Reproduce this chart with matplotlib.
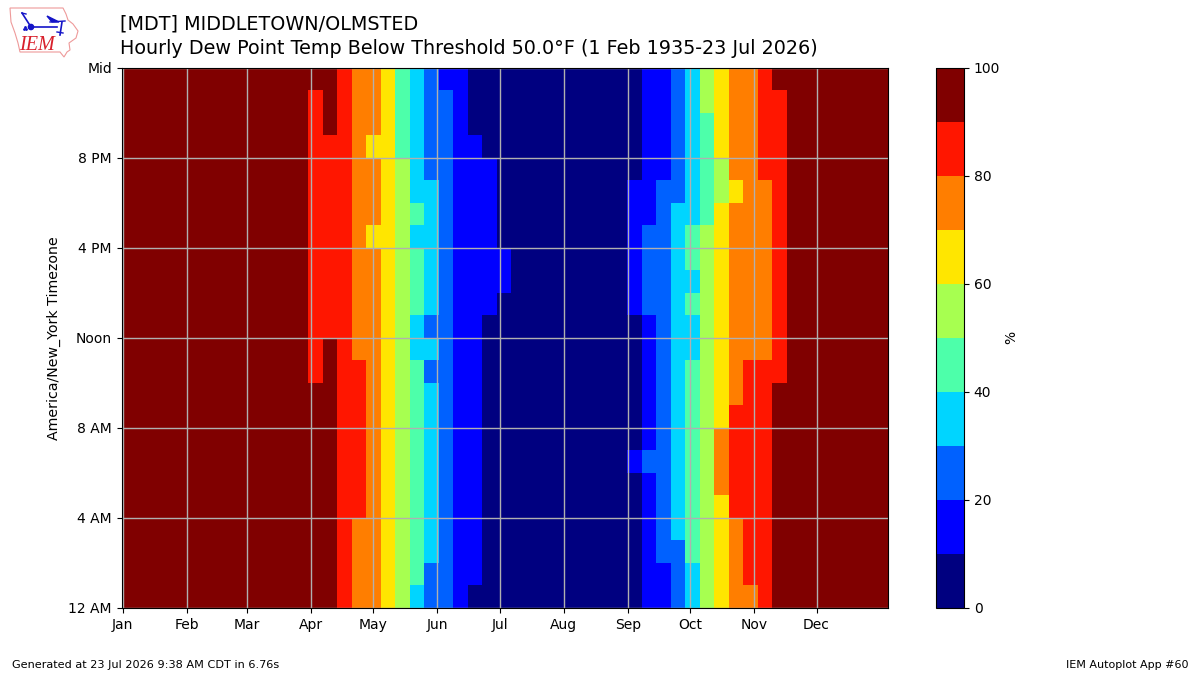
#Hourly dew point frequency heatmap for one station
#Weeks along the bottom, hour of day up the side, colour is % of obs below threshold

import numpy as np
from matplotlib import pyplot as plt
from matplotlib.colors import BoundaryNorm
from matplotlib.patches import Polygon, Circle

#tick positions are day of year in a leap year
month_days = [1, 32, 61, 92, 122, 153, 183, 214, 245, 275, 306, 336]
month_labels = ['Jan', 'Feb', 'Mar', 'Apr', 'May', 'Jun', 'Jul', 'Aug', 'Sep', 'Oct', 'Nov', 'Dec']
hour_ticks = [0, 4, 8, 12, 16, 20, 24]
hour_labels = ['12 AM', '4 AM', '8 AM', 'Noon', '4 PM', '8 PM', 'Mid']
levels = [0, 10, 20, 30, 40, 50, 60, 70, 80, 90, 100]
cbar_ticks = [0, 20, 40, 60, 80, 100]

#percent values by week, weeks 0-12 and 47-52 stay at the top band, weeks 27-34 at the bottom
winter_pct = 95
summer_pct = 5

#spring weeks 13-26, one row per hour starting at midnight
spring_pct = [
    [95, 95, 85, 75, 75, 65, 55, 35, 25, 25, 15, 5, 5, 5],
    [95, 95, 85, 75, 75, 65, 55, 45, 25, 25, 15, 15, 5, 5],
    [95, 95, 85, 75, 75, 65, 55, 45, 35, 25, 15, 15, 5, 5],
    [95, 95, 85, 75, 75, 65, 55, 45, 35, 25, 15, 15, 5, 5],
    [95, 95, 85, 85, 75, 65, 55, 45, 35, 25, 15, 15, 5, 5],
    [95, 95, 85, 85, 75, 65, 55, 45, 35, 25, 15, 15, 5, 5],
    [95, 95, 85, 85, 75, 65, 55, 45, 35, 25, 15, 15, 5, 5],
    [95, 95, 85, 85, 75, 65, 55, 45, 35, 25, 15, 15, 5, 5],
    [95, 95, 85, 85, 75, 65, 55, 45, 35, 25, 15, 15, 5, 5],
    [95, 95, 85, 85, 75, 65, 55, 45, 35, 25, 15, 15, 5, 5],
    [85, 95, 85, 85, 75, 65, 55, 45, 25, 25, 15, 15, 5, 5],
    [85, 95, 85, 75, 75, 65, 55, 35, 35, 25, 15, 15, 5, 5],
    [85, 85, 85, 75, 75, 65, 55, 35, 25, 25, 15, 15, 5, 5],
    [85, 85, 85, 75, 75, 65, 55, 45, 35, 25, 15, 15, 15, 5],
    [85, 85, 85, 75, 75, 65, 55, 45, 35, 25, 15, 15, 15, 15],
    [85, 85, 85, 75, 75, 65, 55, 45, 35, 25, 15, 15, 15, 15],
    [85, 85, 85, 75, 65, 65, 55, 35, 35, 25, 15, 15, 15, 5],
    [85, 85, 85, 75, 75, 65, 55, 45, 35, 25, 15, 15, 15, 5],
    [85, 85, 85, 75, 75, 65, 55, 35, 35, 25, 15, 15, 15, 5],
    [85, 85, 85, 75, 75, 65, 55, 35, 25, 25, 15, 15, 15, 5],
    [85, 85, 85, 75, 65, 65, 45, 35, 25, 25, 15, 15, 5, 5],
    [85, 95, 85, 75, 75, 65, 45, 35, 25, 25, 15, 5, 5, 5],
    [85, 95, 85, 75, 75, 65, 45, 35, 25, 25, 15, 5, 5, 5],
    [95, 95, 85, 75, 75, 65, 45, 35, 25, 15, 15, 5, 5, 5],
]

#autumn weeks 35-46, same row order
autumn_pct = [
    [5, 15, 15, 25, 35, 55, 65, 75, 75, 85, 95, 95],
    [5, 15, 15, 25, 35, 55, 65, 75, 85, 85, 95, 95],
    [5, 15, 25, 25, 45, 55, 65, 75, 85, 85, 95, 95],
    [5, 15, 25, 35, 45, 55, 65, 75, 85, 85, 95, 95],
    [5, 15, 25, 35, 45, 55, 65, 85, 85, 85, 95, 95],
    [5, 15, 25, 35, 45, 55, 75, 85, 85, 85, 95, 95],
    [15, 25, 25, 35, 45, 55, 75, 85, 85, 85, 95, 95],
    [5, 15, 25, 35, 45, 55, 75, 85, 85, 85, 95, 95],
    [5, 15, 25, 35, 45, 55, 65, 85, 85, 85, 95, 95],
    [5, 15, 25, 35, 45, 55, 65, 75, 85, 85, 95, 95],
    [5, 15, 25, 35, 45, 55, 65, 75, 85, 85, 85, 95],
    [5, 15, 25, 35, 35, 55, 65, 75, 75, 75, 85, 95],
    [5, 15, 25, 35, 35, 55, 65, 75, 75, 75, 85, 95],
    [15, 25, 25, 35, 45, 55, 65, 75, 75, 75, 85, 95],
    [15, 25, 25, 35, 35, 55, 65, 75, 75, 75, 85, 95],
    [15, 25, 25, 35, 45, 55, 65, 75, 75, 75, 85, 95],
    [15, 25, 25, 35, 45, 55, 65, 75, 75, 75, 85, 95],
    [15, 15, 25, 35, 35, 45, 65, 75, 75, 75, 85, 95],
    [15, 15, 25, 25, 35, 45, 55, 65, 75, 75, 85, 95],
    [5, 15, 15, 25, 35, 45, 55, 75, 75, 85, 85, 95],
    [5, 15, 15, 25, 35, 45, 65, 75, 75, 85, 85, 95],
    [5, 15, 15, 25, 35, 45, 65, 75, 75, 85, 85, 95],
    [5, 15, 15, 25, 35, 55, 65, 75, 75, 85, 85, 95],
    [5, 15, 15, 25, 35, 55, 65, 75, 75, 85, 95, 95],
]

#1. put the seasons together into one hour by week grid
rows = []
for hour in range(24):
    rows.append([winter_pct] * 13 + spring_pct[hour] + [summer_pct] * 8 + autumn_pct[hour] + [winter_pct] * 6)
grid = np.array(rows)

week_edges = np.arange(54) * 7 - 0.5
hour_edges = np.arange(25)

fig = plt.figure(figsize=(12, 6.75), dpi=100)
ax = fig.add_axes([121.6 / 1200, 67.2 / 675, 766.4 / 1200, 540.2 / 675])
cax = fig.add_axes([936 / 1200, 67.2 / 675, 28 / 1200, 540.2 / 675])

#2. the heatmap, jet cut into ten bands
norm = BoundaryNorm(levels, 256)
mesh = ax.pcolormesh(week_edges, hour_edges, grid, cmap='jet', norm=norm)
ax.set_xlim(0.5, 370.5)
ax.set_ylim(0, 24)
ax.set_xticks(month_days)
ax.set_xticklabels(month_labels)
ax.set_yticks(hour_ticks)
ax.set_yticklabels(hour_labels)
ax.set_ylabel('America/New_York Timezone', labelpad=5, fontsize=10.2)
ax.grid(True, color='#b0b0b0', linewidth=1)
ax.set_axisbelow(False)
#keep the frame above the grid lines that sit on the edges
for spine in ax.spines.values():
    spine.set_zorder(5)

cbar = fig.colorbar(mesh, cax=cax, ticks=cbar_ticks)
cbar.ax.minorticks_off()
cbar.set_label('%', labelpad=3)

#3. title lines and footer
fig.text(120 / 1200, 1 - 24 / 675, '[MDT] MIDDLETOWN/OLMSTED', fontsize=13.74, va='center')
fig.text(120 / 1200, 1 - 48 / 675, 'Hourly Dew Point Temp Below Threshold 50.0°F (1 Feb 1935-23 Jul 2026)', fontsize=13.74, va='center')
fig.text(12 / 1200, 1 - 665 / 675, 'Generated at 23 Jul 2026 9:38 AM CDT in 6.76s', fontsize=8.1, va='center')
fig.text(1188 / 1200, 1 - 665 / 675, 'IEM Autoplot App #60', fontsize=8, va='center', ha='right')

#4. small state outline logo in the corner, drawn in pixel units
logo = fig.add_axes([0, 1 - 60 / 675, 84 / 1200, 60 / 675])
logo.set_xlim(0, 84)
logo.set_ylim(60, 0)
logo.axis('off')
outline = [(10, 8), (63, 8), (66, 14), (68, 20), (73, 24), (78, 31), (76, 38), (69, 43), (70, 50), (67, 52), (64, 57),
           (60, 52), (20, 52), (18, 43), (15, 33), (11, 22)]
logo.add_patch(Polygon(outline, closed=True, fill=False, edgecolor='#ee9a9a', linewidth=0.8))
blue = '#1414c8'
logo.add_patch(Circle((31, 27), 2.6, color=blue))
logo.plot([31, 57], [27, 27], color=blue, linewidth=1.2)
logo.plot([22, 31], [13, 27], color=blue, linewidth=1.2)
logo.plot([22, 26], [13, 14], color=blue, linewidth=1)
logo.plot([50, 65], [22, 21], color=blue, linewidth=1)
logo.plot([62, 60], [22, 35], color=blue, linewidth=1.2)
logo.plot([57, 63], [32, 33], color=blue, linewidth=1)
logo.add_patch(Polygon([(47, 16), (59, 22), (52, 22)], closed=True, color=blue))
logo.plot([24, 25, 26], [29, 27, 29], linestyle='none', marker='o', markersize=1, color=blue)
logo.text(37, 45, 'IEM', fontsize=14.5, color='#d8202c', family='Liberation Serif', style='italic', ha='center', va='center')

plt.savefig('out.png', dpi=100)
